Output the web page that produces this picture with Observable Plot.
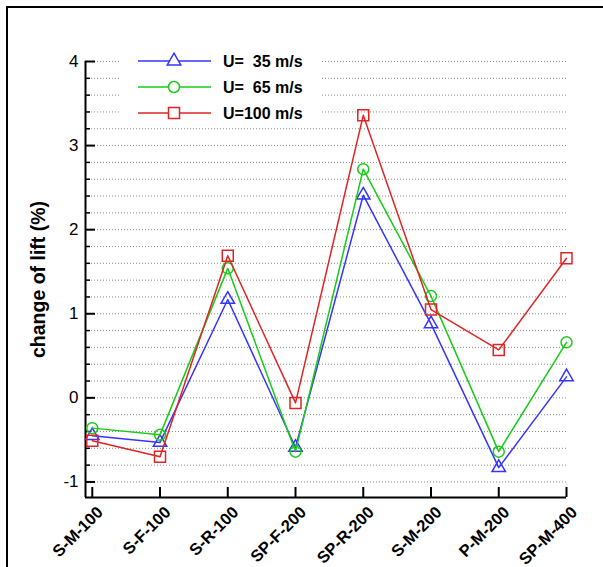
<!DOCTYPE html>
<html>
<head>
<meta charset="utf-8">
<script src="https://cdn.jsdelivr.net/npm/d3@7"></script>
<script src="https://cdn.jsdelivr.net/npm/@observablehq/plot@0.6"></script>
<style>
  html, body { margin: 0; padding: 0; background: #fff; }
  #wrap { position: relative; width: 603px; height: 567px; overflow: hidden; font-family: "Liberation Sans", Arial, sans-serif; }
  #frame { position: absolute; left: 6px; top: 6px; width: 700px; height: 700px; border-top: 2px solid #000; border-left: 2px solid #000; box-sizing: border-box; pointer-events: none; }
  #chart { position: absolute; left: 0; top: 0; width: 603px; height: 567px; }
  #legend { position: absolute; left: 120px; top: 50px; width: 200px; height: 74px; background: #fff; }
</style>
</head>
<body>
<div id="wrap">
  <div id="chart"></div>
  <div id="legend"></div>
  <div id="frame"></div>
</div>
<script>
// ---- data ----
const categories = ["S-M-100", "S-F-100", "S-R-100", "SP-F-200", "SP-R-200", "S-M-200", "P-M-200", "SP-M-400"];
const seriesNames = ["U=  35 m/s", "U=  65 m/s", "U=100 m/s"];
const u35  = [-0.45, -0.53, 1.17, -0.59, 2.41, 0.88, -0.83, 0.25];
const u65  = [-0.36, -0.44, 1.54, -0.64, 2.72, 1.21, -0.64, 0.66];
const u100 = [-0.51, -0.70, 1.69, -0.06, 3.36, 1.05, 0.57, 1.66];
const yMajorTicks = [-1, 0, 1, 2, 3, 4];
const yLabel = "change of lift (%)";
const colors = ["#3535ff", "#18cc18", "#e02424"];
const symbols = ["triangle", "circle", "square"];
const symbolR = [5, 5.5, 6.2];

// ---- derived ----
const values = [u35, u65, u100];
const rows = [];
values.forEach((arr, s) => arr.forEach((v, i) => rows.push({series: seriesNames[s], i, value: v, cat: categories[i]})));
const yMinorTicks = d3.range(-1, 4.001, 0.2).map(v => +v.toFixed(1)).filter(v => !Number.isInteger(v));
const gridTicks = d3.range(-1, 4.001, 0.2).map(v => +v.toFixed(1));
const xDomain = [-0.1, categories.length - 1];
const yDomain = [-1.185, 4];

const marks = [
  Plot.gridY(gridTicks, {stroke: "#8a8a8a", strokeOpacity: 1, strokeWidth: 1, strokeDasharray: "1,2"}),
  Plot.ruleX([xDomain[0]], {strokeWidth: 2, stroke: "#000"}),
  Plot.ruleY([yDomain[0]], {strokeWidth: 2, stroke: "#000"}),
  Plot.axisY({ticks: yMajorTicks, tickSize: -10, text: null, label: null, strokeWidth: 2, stroke: "#000"}),
  Plot.axisY({ticks: yMinorTicks, tickSize: -5, text: null, label: null, strokeWidth: 1.5, stroke: "#000"}),
  Plot.axisY({ticks: yMajorTicks, tickSize: 0, tickPadding: 7, label: null, fontSize: 17, fill: "#000", tickFormat: d => String(d)}),
  Plot.axisX({ticks: d3.range(categories.length), tickSize: -10, text: null, label: null, strokeWidth: 2, stroke: "#000"}),
  Plot.text(categories, {x: (d, i) => i, frameAnchor: "bottom", rotate: -45, textAnchor: "end", lineAnchor: "middle", dx: 8, dy: 12, fontWeight: "bold", fontSize: 16.5, fill: "#000"}),
  Plot.text([yLabel], {frameAnchor: "left", textAnchor: "middle", rotate: -90, dx: -47, fontWeight: "bold", fontSize: 19.5, fill: "#000"})
];
seriesNames.forEach((name, s) => {
  const data = rows.filter(r => r.series === name);
  marks.push(Plot.line(data, {x: "i", y: "value", stroke: colors[s], strokeWidth: 1.5}));
  marks.push(Plot.dot(data, {x: "i", y: "value", stroke: colors[s], symbol: symbols[s], r: symbolR[s], strokeWidth: 1.5, fill: "none"}));
});

const chart = Plot.plot({
  width: 603,
  height: 567,
  marginLeft: 85,
  marginRight: 37,
  marginTop: 61,
  marginBottom: 70,
  x: {domain: xDomain, axis: null},
  y: {domain: yDomain, axis: null},
  style: {fontFamily: "'Liberation Sans', Arial, sans-serif", background: "transparent", overflow: "visible"},
  marks
});
document.getElementById("chart").appendChild(chart);

// ---- legend ----
const lg = d3.select("#legend").append("svg").attr("width", 200).attr("height", 74);
const symMap = {triangle: d3.symbolTriangle, circle: d3.symbolCircle, square: d3.symbolSquare};
seriesNames.forEach((name, s) => {
  const yy = 11 + s * 26;
  const g = lg.append("g");
  g.append("line").attr("x1", 18).attr("x2", 91).attr("y1", yy).attr("y2", yy).attr("stroke", colors[s]).attr("stroke-width", 1.5);
  g.append("path").attr("d", d3.symbol(symMap[symbols[s]], Math.PI * symbolR[s] * symbolR[s])())
    .attr("transform", `translate(54,${yy})`).attr("fill", "#fff").attr("stroke", colors[s]).attr("stroke-width", 1.5);
  g.append("text").attr("x", 103).attr("y", yy).attr("dy", "0.35em").attr("font-size", 16).attr("font-weight", "bold")
    .attr("font-family", "'Liberation Sans', Arial, sans-serif").attr("fill", "#000").style("white-space", "pre").attr("xml:space", "preserve").text(name);
});
</script>
</body>
</html>
